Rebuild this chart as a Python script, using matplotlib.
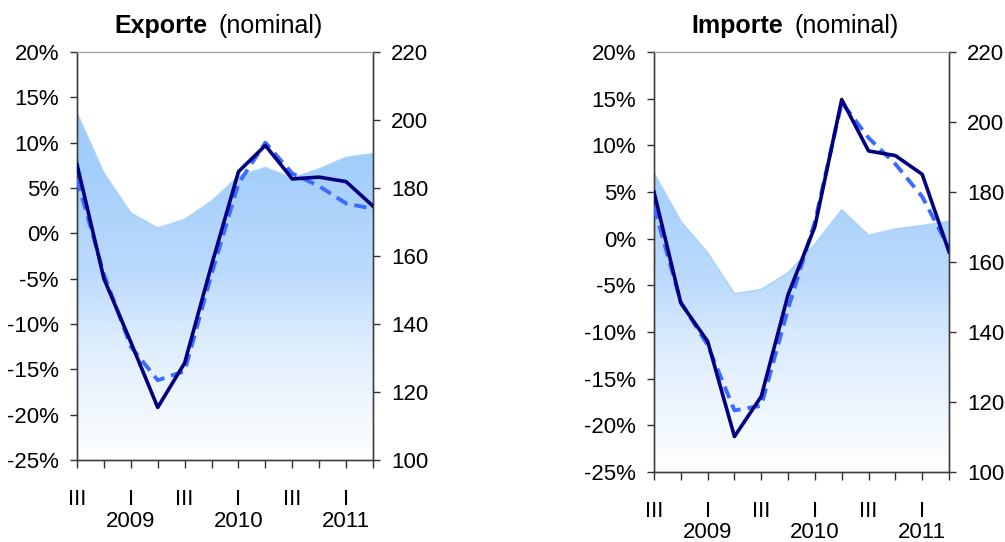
import numpy as np
import matplotlib
matplotlib.use('Agg')
import matplotlib.pyplot as plt
from matplotlib.colors import LinearSegmentedColormap
from matplotlib.patches import Polygon

plt.rcParams['font.family'] = ['Liberation Sans', 'DejaVu Sans']

# ---- data ----
tick_labels = ['III', '', 'I', '', 'III', '', 'I', '', 'III', '', 'I', '']
years = ['2009', '2010', '2011']
year_pos = [2, 6, 10]

exp_nominal = [7.6, -5.0, -12.0, -19.2, -14.3, -3.5, 6.8, 9.7, 6.0, 6.2, 5.7, 3.0]
exp_trend = [6.0, -4.5, -12.5, -16.2, -15.2, -4.5, 5.5, 10.0, 6.6, 5.2, 3.3, 2.7]
exp_index = [202, 184.4, 172.6, 168.2, 170.7, 176.1, 183.4, 186, 182.9, 185.6, 189, 190.1]

imp_nominal = [5.0, -6.9, -11.0, -21.2, -16.9, -6.0, 1.3, 14.9, 9.4, 8.9, 6.9, -1.4]
imp_trend = [3.4, -6.8, -11.4, -18.4, -17.9, -7.5, 1.8, 14.6, 10.8, 8.0, 4.5, -1.0]
imp_index = [185.4, 171.6, 162.6, 150.9, 152.1, 156.9, 165, 174.9, 167.6, 169.4, 170.4, 171.6]

pct_ticks = [-25, -20, -15, -10, -5, 0, 5, 10, 15, 20]
idx_ticks = [100, 120, 140, 160, 180, 200, 220]

W, H = 1005, 542
fig = plt.figure(figsize=(W / 100, H / 100), dpi=100)

grad_cmap = LinearSegmentedColormap.from_list(
    'g', [(0.0, '#ffffff'), (0.3, '#dcecfd'), (0.45, '#bddbfc'),
          (0.7, '#a5cffb'), (1.0, '#92c5fa')])

FS = 16


def panel(rect, title_bold, bold_right, nominal, trend, index, year_y):
    ax = fig.add_axes(rect)
    ax2 = ax.twinx()
    x = np.arange(len(nominal))

    # gradient area on right axis
    ax2.set_xlim(0, len(nominal) - 1)
    ax2.set_ylim(100, 220)
    verts = list(zip(x, index)) + [(x[-1], 100), (x[0], 100)]
    poly = Polygon(verts, closed=True, facecolor='none', edgecolor='none')
    ax2.add_patch(poly)
    grad = np.linspace(0, 1, 256).reshape(-1, 1)
    im = ax2.imshow(grad, aspect='auto', cmap=grad_cmap, origin='lower',
                    extent=[0, 1, 0, 1], transform=ax2.transAxes, zorder=1)
    im.set_clip_path(poly)
    ax2.plot(x, index, color='#a9d2fd', lw=1.2, zorder=2)

    ax.set_zorder(ax2.get_zorder() + 1)
    ax.patch.set_visible(False)
    ax.plot(x, trend, color='#3b6cff', lw=2.8, ls=(0, (3.2, 1.8)), zorder=3)
    ax.plot(x, nominal, color='#000080', lw=2.6, zorder=4)
    ax.set_xlim(0, len(nominal) - 1)
    ax.set_ylim(-25, 20)
    ax.set_yticks(pct_ticks)
    ax.set_yticklabels([f'{v}%' for v in pct_ticks])
    ax.set_xticks(x)
    ax.set_xticklabels(tick_labels)
    ax2.set_yticks(idx_ticks)
    ax2.set_yticklabels([str(v) for v in idx_ticks])

    for a in (ax, ax2):
        for s in ('left', 'right', 'bottom'):
            a.spines[s].set_color('#404040')
            a.spines[s].set_linewidth(1.0)
        a.spines['top'].set_color('#a0a0a0')
        a.spines['top'].set_linewidth(0.8)
    ax.tick_params(axis='y', direction='out', length=5, width=1, pad=8,
                   labelsize=FS, color='#303030')
    ax2.tick_params(axis='y', direction='out', length=5, width=1, pad=8,
                    labelsize=FS, color='#303030')
    ax.tick_params(axis='x', direction='out', length=6, width=1, pad=15,
                   labelsize=FS, color='#303030')

    for yr, p in zip(years, year_pos):
        ax.text(p, year_y, yr, transform=ax.get_xaxis_transform(),
                ha='center', va='top', fontsize=FS)

    # title
    fig.text(bold_right / W, 1 - 26 / H, title_bold, ha='right', va='center',
             fontsize=18, fontweight='bold')
    fig.text((bold_right + 11) / W, 1 - 26 / H, '(nominal)', ha='left',
             va='center', fontsize=18)
    return ax, ax2


panel([77 / W, 1 - 460 / H, 296 / W, 408 / H], 'Exporte', 207,
      exp_nominal, exp_trend, exp_index, -0.125)
panel([654 / W, 1 - 472 / H, 295 / W, 420 / H], 'Importe', 783,
      imp_nominal, imp_trend, imp_index, -0.12)

fig.savefig('out.png', dpi=100)
